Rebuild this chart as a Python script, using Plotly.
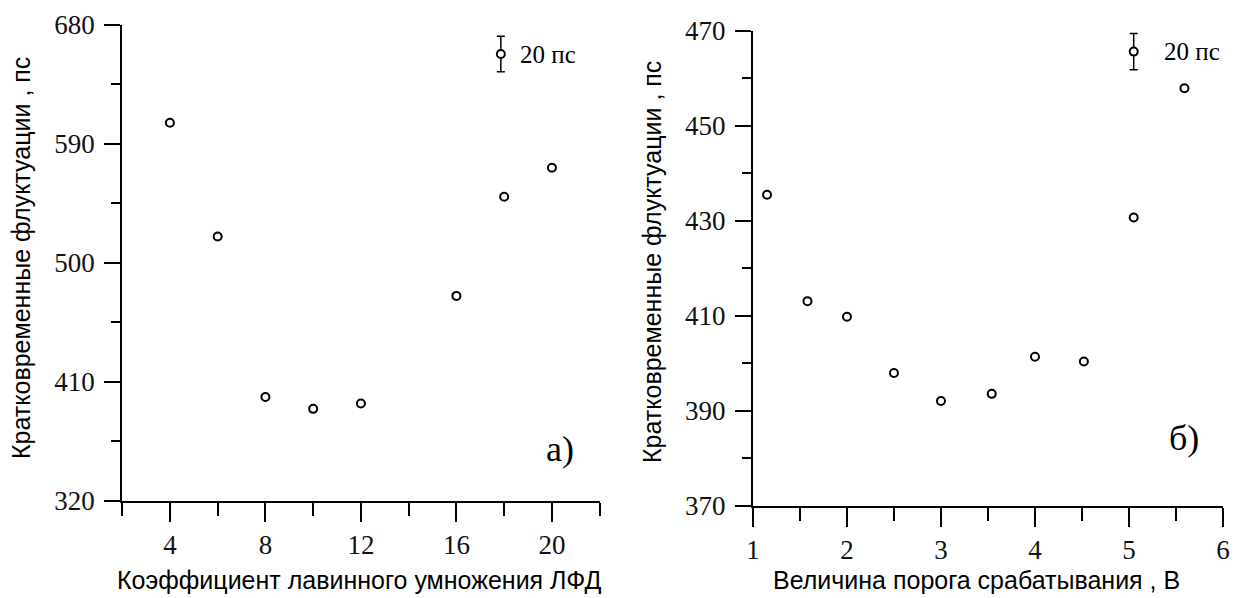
import plotly.graph_objects as go

# Panel a)
gain = [4, 6, 8, 10, 12, 16, 18, 20]
jitter_a = [606, 520, 398.5, 389.5, 393.5, 475, 550, 572]
# Panel б)
threshold = [1.15, 1.58, 2.0, 2.5, 3.0, 3.54, 4.0, 4.52, 5.05, 5.59]
jitter_b = [435.5, 413.1, 409.8, 398.0, 392.1, 393.6, 401.4, 400.4, 430.7, 457.9]
# error-bar scale marks ("20 пс")
scale_a_x, scale_a_y, scale_a_err = [17.86], [658], [13.4]
scale_b_x, scale_b_y, scale_b_err = [5.05], [465.6], [3.8]

SERIF = "Liberation Serif, Times New Roman, serif"
SANS = "Liberation Sans, Arial, sans-serif"

fig = go.Figure()
mk = dict(symbol="circle", size=8, color="white", line=dict(color="black", width=2))

fig.add_trace(go.Scatter(x=gain, y=jitter_a, mode="markers", marker=mk, xaxis="x", yaxis="y"))
fig.add_trace(go.Scatter(x=threshold, y=jitter_b, mode="markers", marker=mk, xaxis="x2", yaxis="y2"))
fig.add_trace(go.Scatter(x=scale_a_x, y=scale_a_y, mode="markers", marker=mk, xaxis="x", yaxis="y",
                         error_y=dict(type="data", array=scale_a_err, color="black", thickness=1.5, width=4)))
fig.add_trace(go.Scatter(x=scale_b_x, y=scale_b_y, mode="markers", marker=mk, xaxis="x2", yaxis="y2",
                         error_y=dict(type="data", array=scale_b_err, color="black", thickness=1.5, width=4)))

ax_common = dict(showline=True, linecolor="black", linewidth=2, showgrid=False, zeroline=False,
                 ticks="outside", tickwidth=2, tickcolor="black", automargin=False,
                 tickfont=dict(family=SERIF, size=27, color="#111"), mirror=False)
xminor = dict(ticks="outside", ticklen=13, tickwidth=2, tickcolor="black")
yminor = dict(ticks="outside", ticklen=9, tickwidth=2, tickcolor="black")

fig.update_layout(
    template="none",
    width=1239, height=598, margin=dict(l=0, r=0, t=0, b=0, autoexpand=False),
    paper_bgcolor="white", plot_bgcolor="white", showlegend=False,
    xaxis=dict(domain=[0.0986, 0.4840], range=[2, 22], tick0=0, dtick=4, anchor="y", ticklen=19,
               minor=dict(dtick=2, tick0=0, **xminor), ticklabelstandoff=0, **ax_common),
    yaxis=dict(domain=[0.1627, 0.9582], range=[320, 680], tick0=320, dtick=90, anchor="x", ticklen=16,
               minor=dict(dtick=45, tick0=320, **yminor), ticklabelstandoff=4, **ax_common),
    xaxis2=dict(domain=[0.6077, 0.9871], range=[1, 6], tick0=0, dtick=1, anchor="y2", ticklen=19,
                minor=dict(dtick=0.5, tick0=0, **xminor), ticklabelstandoff=0, **ax_common),
    yaxis2=dict(domain=[0.1538, 0.9487], range=[370, 470], tick0=370, dtick=20, anchor="x2", ticklen=16,
                minor=dict(dtick=10, tick0=370, **yminor), ticklabelstandoff=4, **ax_common),
)

title_font = dict(family=SANS, size=25, color="black")
ann = []
ann.append(dict(text="Кратковременные флуктуации , пс", x=21/1239, y=0.5686, xref="paper", yref="paper",
                xanchor="center", yanchor="middle", textangle=-90, showarrow=False, font=title_font))
ann.append(dict(text="Кратковременные флуктуации , пс", x=652/1239, y=0.5619, xref="paper", yref="paper",
                xanchor="center", yanchor="middle", textangle=-90, showarrow=False, font=title_font))
ann.append(dict(text="Коэффициент лавинного умножения ЛФД", x=0.2898, y=0.030, xref="paper", yref="paper",
                xanchor="center", yanchor="middle", showarrow=False, font=title_font))
ann.append(dict(text="Величина порога срабатывания , В", x=0.7885, y=0.030, xref="paper", yref="paper",
                xanchor="center", yanchor="middle", showarrow=False, font=title_font))
ann.append(dict(text="а)", x=20.33, y=359, xref="x", yref="y", showarrow=False,
                xanchor="center", yanchor="middle", font=dict(family=SERIF, size=36, color="black")))
ann.append(dict(text="б)", x=5.585, y=384.3, xref="x2", yref="y2", showarrow=False,
                xanchor="center", yanchor="middle", font=dict(family=SERIF, size=36, color="black")))
ann.append(dict(text="20 пс", x=18.58, y=658, xref="x", yref="y", xanchor="left", yanchor="middle",
                showarrow=False, font=dict(family=SERIF, size=25, color="black")))
ann.append(dict(text="20 пс", x=5.347, y=465.6, xref="x2", yref="y2", xanchor="left", yanchor="middle",
                showarrow=False, font=dict(family=SERIF, size=25, color="black")))
fig.update_layout(annotations=ann)

fig.write_html("out.html")
